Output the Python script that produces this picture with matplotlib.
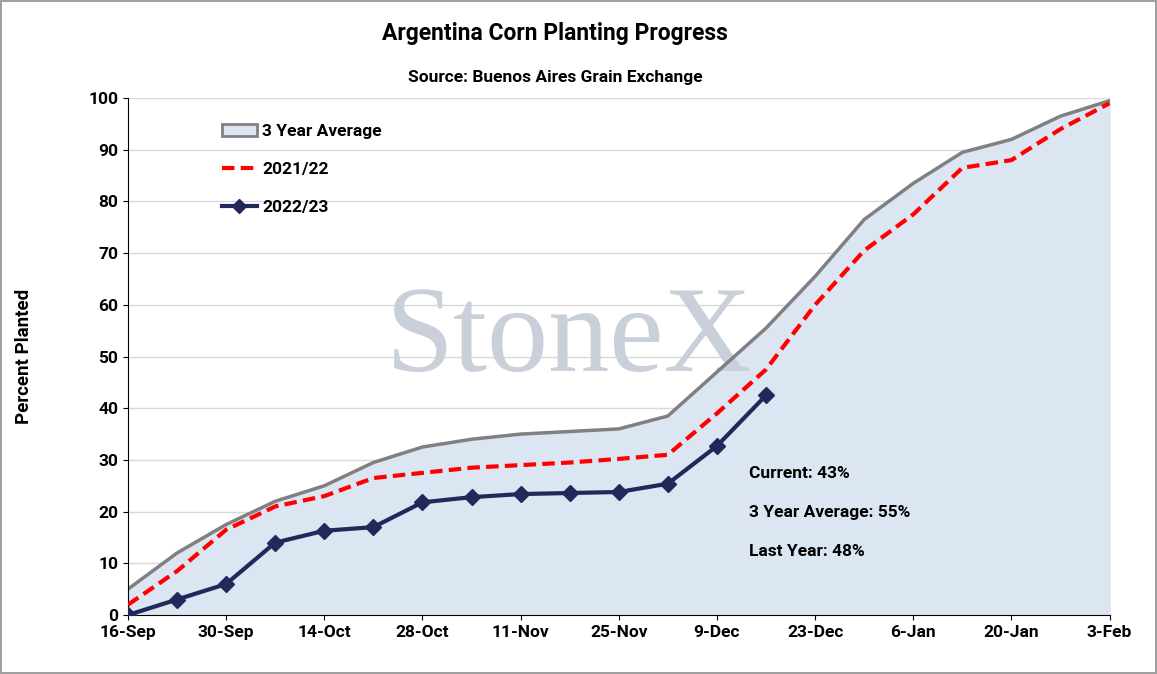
import matplotlib.pyplot as plt
from matplotlib.patches import Patch
from matplotlib.lines import Line2D

tick_labels = ["16-Sep", "30-Sep", "14-Oct", "28-Oct", "11-Nov", "25-Nov", "9-Dec",
               "23-Dec", "6-Jan", "20-Jan", "3-Feb"]
avg_3yr = [5, 12, 17.5, 22, 25, 29.5, 32.5, 34, 35, 35.5, 36, 38.5, 47, 55.5,
           65.5, 76.5, 83.5, 89.5, 92, 96.5, 99.5]
y2021 = [2, 8.5, 16.5, 21, 23, 26.5, 27.5, 28.5, 29, 29.5, 30.2, 31, 39, 47.5,
         60, 70.5, 77.5, 86.5, 88, 94, 99]
y2022 = [0, 3, 6, 14, 16.3, 17, 21.8, 22.8, 23.4, 23.6, 23.8, 25.4, 32.7, 42.5]

plt.rcParams['font.family'] = ['Roboto', 'DejaVu Sans']
fig = plt.figure(figsize=(11.57, 6.74), dpi=100)
fig.patch.set_edgecolor("#a0a0a0")
fig.patch.set_linewidth(1.5)
ax = fig.add_axes([0.1106, 0.0875, 0.8484, 0.767])

x_avg = range(len(avg_3yr))
ax.fill_between(x_avg, 0, avg_3yr, color="#dce6f2", zorder=1)
ax.plot(x_avg, avg_3yr, color="#808080", lw=2.5, zorder=2)
ax.plot(range(len(y2021)), y2021, color="red", lw=3, ls=(0, (3, 1.5)), zorder=3)
ax.plot(range(len(y2022)), y2022, color="#1f2a5a", lw=3, marker="D", ms=8, zorder=4)

ax.text(0.45, 0.53, "StoneX", transform=ax.transAxes, ha="center", va="center",
        fontsize=88, family="Liberation Serif", color="#c9d0d9", zorder=1.5)

ax.set_xlim(0, 20)
ax.set_ylim(0, 100)
ax.set_xticks(range(0, 21, 2))
ax.set_xticklabels(tick_labels, fontsize=12.5, fontweight="bold")
ax.set_yticks(range(0, 101, 10))
ax.tick_params(axis="y", labelsize=12.5)
for lb in ax.get_yticklabels():
    lb.set_fontweight("bold")
ax.grid(axis="y", color="#d9d9d9", lw=1)
ax.set_axisbelow(True)
for s in ["top", "right"]:
    ax.spines[s].set_visible(False)
ax.set_ylabel("Percent Planted", fontsize=13.5, fontweight="bold", labelpad=40)

handles = [Patch(facecolor="#dce6f2", edgecolor="#808080", lw=2),
           Line2D([], [], color="red", lw=3, ls=(0, (3, 1.5))),
           Line2D([], [], color="#1f2a5a", lw=3, marker="D", ms=7)]
leg = ax.legend(handles, ["3 Year Average", "2021/22", "2022/23"], loc="upper left",
                bbox_to_anchor=(0.08, 0.98), frameon=False, labelspacing=1.3,
                handletextpad=0.3, prop={"weight": "bold", "size": 12.5})

ax.text(0.633, 0.265, "Current: 43%", transform=ax.transAxes, fontsize=12.5, fontweight="bold")
ax.text(0.633, 0.19, "3 Year Average: 55%", transform=ax.transAxes, fontsize=12.5, fontweight="bold")
ax.text(0.633, 0.115, "Last Year: 48%", transform=ax.transAxes, fontsize=12.5, fontweight="bold")

fig.text(0.48, 0.95, "Argentina Corn Planting Progress", ha="center", va="center",
         fontsize=16.5, fontweight="bold")
fig.text(0.48, 0.885, "Source: Buenos Aires Grain Exchange", ha="center", va="center",
         fontsize=12.5, fontweight="bold")

fig.savefig("out.png", dpi=100, edgecolor=fig.get_edgecolor())
